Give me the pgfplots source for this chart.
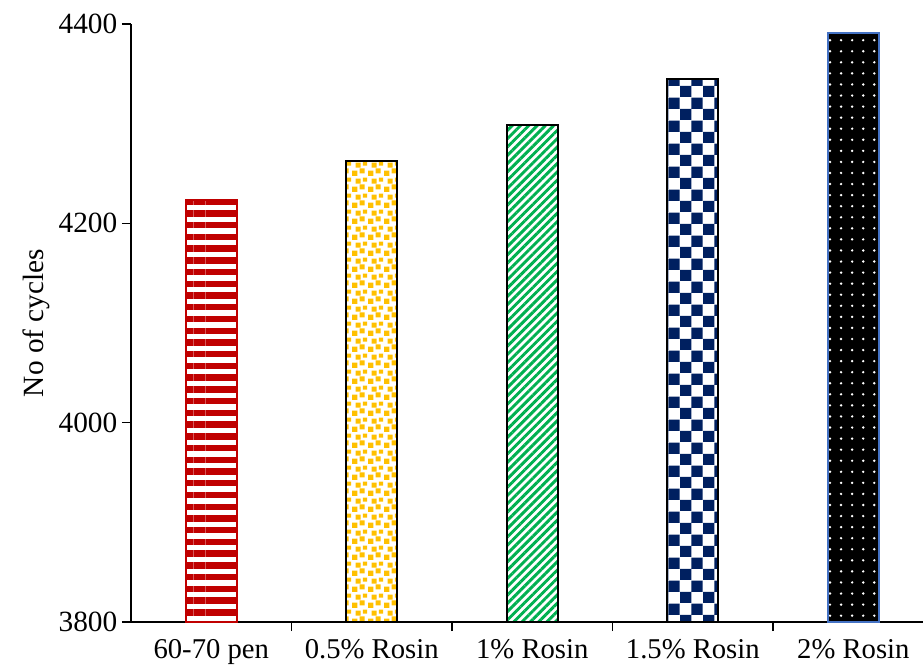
\documentclass[border=0pt]{standalone}
\usepackage{pgfplots}
\pgfplotsset{compat=1.18}
\usepackage{fontspec}
\setmainfont{Liberation Serif}
\usetikzlibrary{patterns,patterns.meta}
\definecolor{cRed}{HTML}{C00000}
\definecolor{cYel}{HTML}{FFC000}
\definecolor{cGrn}{HTML}{00B050}
\definecolor{cNavy}{HTML}{002060}
\definecolor{cBlue}{HTML}{4472C4}
\tikzdeclarepattern{
  name=YelSquares,
  type=uncolored,
  bounding box={(0,0) and (12pt,12pt)},
  tile size={(12pt,12pt)},
  code={
    \pgfpathrectangle{\pgfpoint{0pt}{0pt}}{\pgfpoint{4.2pt}{4.2pt}}
    \pgfpathrectangle{\pgfpoint{6pt}{2pt}}{\pgfpoint{4pt}{4pt}}
    \pgfpathrectangle{\pgfpoint{2.8pt}{6.6pt}}{\pgfpoint{4pt}{4pt}}
    \pgfpathrectangle{\pgfpoint{8.6pt}{8.2pt}}{\pgfpoint{3.2pt}{3.2pt}}
    \pgfusepath{fill}
  }
}
\tikzdeclarepattern{
  name=Checker,
  type=uncolored,
  bounding box={(0,0) and (17pt,17pt)},
  tile size={(17pt,17pt)},
  code={
    \pgfpathrectangle{\pgfpoint{0pt}{0pt}}{\pgfpoint{8.5pt}{8.5pt}}
    \pgfpathrectangle{\pgfpoint{8.5pt}{8.5pt}}{\pgfpoint{8.5pt}{8.5pt}}
    \pgfusepath{fill}
  }
}
\newcommand{\yf}{\fontsize{22}{25}\selectfont}
\begin{document}
\begin{tikzpicture}
\useasboundingbox (-98.25pt,-36.75pt) rectangle (594pt,466.5pt);
\begin{axis}[
  scale only axis,
  width=594pt, height=448.5pt,
  xmin=-0.5, xmax=4.434,
  ymin=3800, ymax=4400,
  ytick={3800,4000,4200,4400},
  yticklabels={{\yf 3800},{\yf 4000},{\yf 4200},{\yf 4400}},
  xtick={0,1,2,3,4},
  xticklabels={60-70 pen,0.5\% Rosin,1\% Rosin,1.5\% Rosin,2\% Rosin},
  minor xtick={0.5,1.5,2.5,3.5},
  x tick style={draw=none},
  minor x tick style={draw=black, line width=1pt},
  minor tick length=6.75pt,
  major tick length=6.75pt,
  y tick style={black, line width=1pt},
  tick align=outside,
  axis x line*=bottom,
  axis y line*=left,
  axis line style={line width=1pt, -},
  ylabel={No of cycles},
  x tick label style={font=\fontsize{21.5}{25}\selectfont, yshift=-3pt},
  y tick label style={font=\yf},
  label style={font=\yf},
  ybar, bar width=38.25pt,
  clip=false,
]
\addplot[bar shift=0pt, draw=cRed, line width=1.5pt,
  pattern={Lines[angle=0,distance=8.8pt,line width=4.8pt]}, pattern color=cRed]
  coordinates {(0,4223)};
\addplot[bar shift=0pt, draw=black, line width=1.5pt,
  pattern=YelSquares, pattern color=cYel]
  coordinates {(1,4263)};
\addplot[bar shift=0pt, draw=black, line width=1.5pt,
  pattern={Lines[angle=45,distance=4.4pt,line width=2.2pt]}, pattern color=cGrn]
  coordinates {(2,4299)};
\addplot[bar shift=0pt, draw=black, line width=1.5pt,
  pattern=Checker, pattern color=cNavy]
  coordinates {(3,4345)};
\addplot[bar shift=0pt, draw=cBlue, line width=1.5pt, fill=black,
  postaction={pattern={Dots[distance=8.3pt,radius=1pt]}, pattern color=white}]
  coordinates {(4,4391)};
\end{axis}
\end{tikzpicture}
\end{document}
